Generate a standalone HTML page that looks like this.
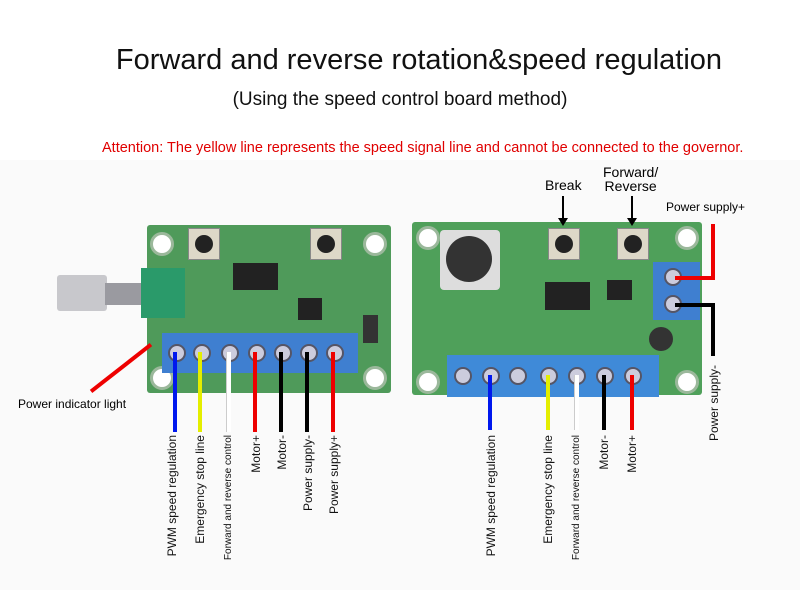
<!DOCTYPE html>
<html><head><meta charset="utf-8"><style>
body{margin:0;width:800px;height:590px;background:#fff;position:relative;overflow:hidden;font-family:"Liberation Sans",sans-serif}
div{position:absolute}
.v{writing-mode:vertical-rl;transform:rotate(180deg);font-size:12px;color:#111;white-space:nowrap;line-height:14px}
.w{width:4px}
.hole{width:18px;height:18px;border-radius:50%;background:#fff;border:3px solid #9bb89b}
.scr{width:14px;height:14px;border-radius:50%;background:#ccd;border:2px solid #556}
.btn{width:30px;height:30px;background:#ddd8c8;border:1px solid #888}
.btn:after{content:"";position:absolute;left:6px;top:6px;width:18px;height:18px;border-radius:50%;background:#222}
</style></head><body>
<div style="left:0;top:160px;width:800px;height:430px;background:#fafafa"></div>
<div style="left:0;top:44px;width:838px;text-align:center;font-size:29px;color:#111">Forward and reverse rotation&amp;speed regulation</div>
<div style="left:0;top:89px;width:800px;text-align:center;font-size:19px;color:#111">(Using the speed control board method)</div>
<div style="left:102px;top:140px;font-size:14.5px;color:#e00000;white-space:nowrap">Attention: The yellow line represents the speed signal line and cannot be connected to the governor.</div>

<!-- left board -->
<div style="left:147px;top:225px;width:244px;height:168px;background:#4f9a5a;border-radius:3px"></div>
<div class="hole" style="left:150px;top:232px"></div>
<div class="hole" style="left:363px;top:232px"></div>
<div class="hole" style="left:150px;top:366px"></div>
<div class="hole" style="left:363px;top:366px"></div>
<div class="btn" style="left:188px;top:228px"></div>
<div class="btn" style="left:310px;top:228px"></div>
<div style="left:233px;top:263px;width:45px;height:27px;background:#222"></div>
<div style="left:298px;top:298px;width:24px;height:22px;background:#222"></div>
<div style="left:363px;top:315px;width:15px;height:28px;background:#333"></div>
<div style="left:57px;top:275px;width:50px;height:36px;background:#c8c8cc;border-radius:3px"></div>
<div style="left:105px;top:283px;width:40px;height:22px;background:#9a9aa0"></div>
<div style="left:141px;top:268px;width:44px;height:50px;background:#2a9a6a"></div>
<div style="left:162px;top:333px;width:196px;height:40px;background:#3f7fd0"></div>
<div class="scr" style="left:168px;top:344px"></div><div class="scr" style="left:193px;top:344px"></div><div class="scr" style="left:221px;top:344px"></div><div class="scr" style="left:248px;top:344px"></div><div class="scr" style="left:274px;top:344px"></div><div class="scr" style="left:300px;top:344px"></div><div class="scr" style="left:326px;top:344px"></div>
<div class="w" style="left:173px;top:352px;height:80px;background:#0018ee"></div>
<div class="w" style="left:198px;top:352px;height:80px;background:#e4ee00"></div>
<div class="w" style="left:226px;top:352px;height:80px;background:#fff;border-left:1px solid #ccc"></div>
<div class="w" style="left:253px;top:352px;height:80px;background:#e00"></div>
<div class="w" style="left:279px;top:352px;height:80px;background:#000"></div>
<div class="w" style="left:305px;top:352px;height:80px;background:#000"></div>
<div class="w" style="left:331px;top:352px;height:80px;background:#e00"></div>
<div style="left:83px;top:366px;width:76px;height:4px;background:#e00;transform:rotate(-38deg)"></div>
<div style="left:18px;top:397px;font-size:12px">Power indicator light</div>
<div class="v" style="left:165px;top:435px">PWM speed regulation</div>
<div class="v" style="left:193px;top:435px">Emergency stop line</div>
<div class="v" style="left:222px;top:435px;font-size:10px">Forward and reverse control</div>
<div class="v" style="left:249px;top:435px">Motor+</div>
<div class="v" style="left:275px;top:435px">Motor-</div>
<div class="v" style="left:301px;top:435px">Power supply-</div>
<div class="v" style="left:327px;top:435px">Power supply+</div>

<!-- right board -->
<div style="left:412px;top:222px;width:290px;height:173px;background:#4fa05a;border-radius:3px"></div>
<div class="hole" style="left:416px;top:226px"></div>
<div class="hole" style="left:675px;top:226px"></div>
<div class="hole" style="left:416px;top:370px"></div>
<div class="hole" style="left:675px;top:370px"></div>
<div style="left:440px;top:230px;width:60px;height:60px;background:#ddd;border-radius:4px"></div>
<div style="left:446px;top:236px;width:46px;height:46px;border-radius:50%;background:#333"></div>
<div class="btn" style="left:548px;top:228px"></div>
<div class="btn" style="left:617px;top:228px"></div>
<div style="left:545px;top:282px;width:45px;height:28px;background:#222"></div>
<div style="left:607px;top:280px;width:25px;height:20px;background:#222"></div>
<div style="left:653px;top:262px;width:47px;height:58px;background:#3f7fd0"></div>
<div class="scr" style="left:664px;top:268px"></div><div class="scr" style="left:664px;top:295px"></div>
<div style="left:649px;top:327px;width:24px;height:24px;border-radius:50%;background:#333"></div>
<div style="left:447px;top:355px;width:212px;height:42px;background:#3f8ad8"></div>
<div class="scr" style="left:454px;top:367px"></div><div class="scr" style="left:482px;top:367px"></div><div class="scr" style="left:509px;top:367px"></div><div class="scr" style="left:540px;top:367px"></div><div class="scr" style="left:568px;top:367px"></div><div class="scr" style="left:596px;top:367px"></div><div class="scr" style="left:624px;top:367px"></div>
<div class="w" style="left:488px;top:375px;height:55px;background:#0018ee"></div>
<div class="w" style="left:546px;top:375px;height:55px;background:#e4ee00"></div>
<div class="w" style="left:574px;top:375px;height:55px;background:#fff;border-left:1px solid #ccc"></div>
<div class="w" style="left:602px;top:375px;height:55px;background:#000"></div>
<div class="w" style="left:630px;top:375px;height:55px;background:#e00"></div>
<div style="left:711px;top:224px;width:4px;height:56px;background:#e00"></div>
<div style="left:675px;top:276px;width:40px;height:4px;background:#e00"></div>
<div style="left:675px;top:303px;width:40px;height:4px;background:#000"></div>
<div style="left:711px;top:303px;width:4px;height:53px;background:#000"></div>
<div class="v" style="left:707px;top:365px">Power supply-</div>
<div style="left:666px;top:200px;font-size:12px">Power supply+</div>
<div style="left:545px;top:177px;font-size:14px">Break</div>
<div style="left:603px;top:165px;font-size:14px;line-height:14px;text-align:center">Forward/<br>Reverse</div>
<div style="left:562px;top:196px;width:2px;height:24px;background:#000"></div>
<div style="left:558px;top:218px;border-left:5px solid transparent;border-right:5px solid transparent;border-top:8px solid #000"></div>
<div style="left:631px;top:196px;width:2px;height:24px;background:#000"></div>
<div style="left:627px;top:218px;border-left:5px solid transparent;border-right:5px solid transparent;border-top:8px solid #000"></div>
<div class="v" style="left:484px;top:435px">PWM speed regulation</div>
<div class="v" style="left:541px;top:435px">Emergency stop line</div>
<div class="v" style="left:570px;top:435px;font-size:10px">Forward and reverse control</div>
<div class="v" style="left:597px;top:435px">Motor-</div>
<div class="v" style="left:625px;top:435px">Motor+</div>
</body></html>
